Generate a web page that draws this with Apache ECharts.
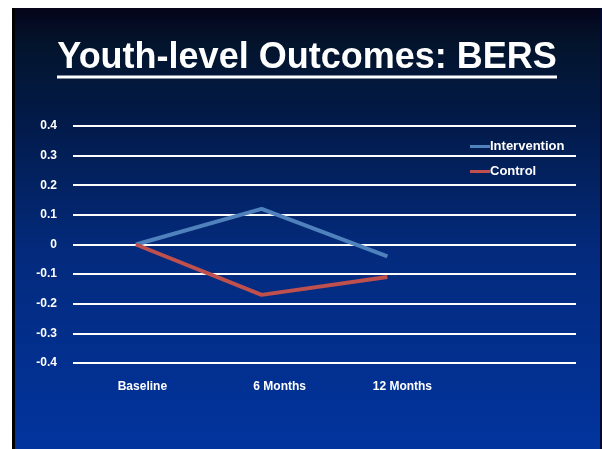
<!DOCTYPE html>
<html>
<head>
<meta charset="utf-8">
<script src="https://cdn.jsdelivr.net/npm/echarts@6/dist/echarts.min.js"></script>
<style>
html,body{margin:0;padding:0;background:#fff;}
#chart{width:602px;height:449px;}
</style>
</head>
<body>
<div id="chart"></div>
<script>
var titleText = 'Youth-level Outcomes: BERS';
var categories = ['Baseline', '6 Months', '12 Months', ''];
var interventionValues = [0, 0.12, -0.04];
var controlValues = [0, -0.17, -0.11];
var seriesNames = ['Intervention', 'Control'];

var chart = echarts.init(document.getElementById('chart'), null, {renderer: 'canvas'});
var FONT = 'Liberation Sans, Arial, sans-serif';
var labelShift = [13, 36, 30, 0];
var rich = {};
labelShift.forEach(function (s, i) {
  rich['c' + i] = {padding: [0, 0, 0, s], color: '#ffffff', fontWeight: 'bold', fontSize: 12, fontFamily: FONT};
});

chart.setOption({
  backgroundColor: '#ffffff',
  animation: false,
  graphic: [
    {type: 'rect', z: -10, shape: {x: 12, y: 8, width: 590, height: 441},
      style: {fill: new echarts.graphic.LinearGradient(0, 0, 0, 1, [
        {offset: 0, color: '#05041a'},
        {offset: 0.08, color: '#03142c'},
        {offset: 0.25, color: '#021a48'},
        {offset: 0.55, color: '#032a7c'},
        {offset: 1, color: '#02349e'}
      ])}},
    {type: 'rect', z: -9, shape: {x: 12, y: 8, width: 3, height: 441}, style: {fill: '#000000'}},
    {type: 'rect', z: -9, shape: {x: 600, y: 8, width: 2, height: 441}, style: {fill: '#020a30'}},
    {type: 'text', z: 10,
      style: {text: titleText, fill: '#ffffff', font: 'bold 36px "Liberation Sans", Arial, sans-serif',
        x: 307, y: 58, align: 'center', verticalAlign: 'middle'}},
    {type: 'rect', z: 10, shape: {x: 57, y: 75.5, width: 500, height: 3}, style: {fill: '#ffffff'}}
  ],
  legend: {
    data: seriesNames,
    orient: 'vertical',
    left: 465,
    top: 135,
    itemWidth: 20,
    itemHeight: 3,
    itemGap: 12,
    icon: 'rect',
    textStyle: {color: '#ffffff', fontWeight: 'bold', fontSize: 13, fontFamily: FONT, padding: [0, 0, 0, -5]}
  },
  grid: {left: 73, right: 26, top: 126, bottom: 86, containLabel: false},
  xAxis: {
    type: 'category',
    data: categories,
    boundaryGap: true,
    axisLine: {show: false},
    axisTick: {show: false},
    splitLine: {show: false},
    axisLabel: {
      margin: 18,
      interval: 0,
      formatter: function (v, i) { return v ? '{c' + i + '|' + v + '}' : ''; },
      rich: rich
    }
  },
  yAxis: {
    type: 'value',
    min: -0.4,
    max: 0.4,
    interval: 0.1,
    axisLine: {show: false},
    axisTick: {show: false},
    splitLine: {lineStyle: {color: '#ffffff', width: 2}},
    axisLabel: {
      margin: 16,
      color: '#ffffff',
      fontWeight: 'bold',
      fontSize: 12,
      fontFamily: FONT,
      formatter: function (v) { return v === 0 ? '0' : (Math.round(v * 10) / 10).toString(); }
    }
  },
  series: [
    {name: seriesNames[0], type: 'line', data: interventionValues, symbol: 'none',
      lineStyle: {color: '#4f81bd', width: 4}, itemStyle: {color: '#4f81bd'}},
    {name: seriesNames[1], type: 'line', data: controlValues, symbol: 'none',
      lineStyle: {color: '#c0504d', width: 4}, itemStyle: {color: '#c0504d'}}
  ]
});
</script>
</body>
</html>
